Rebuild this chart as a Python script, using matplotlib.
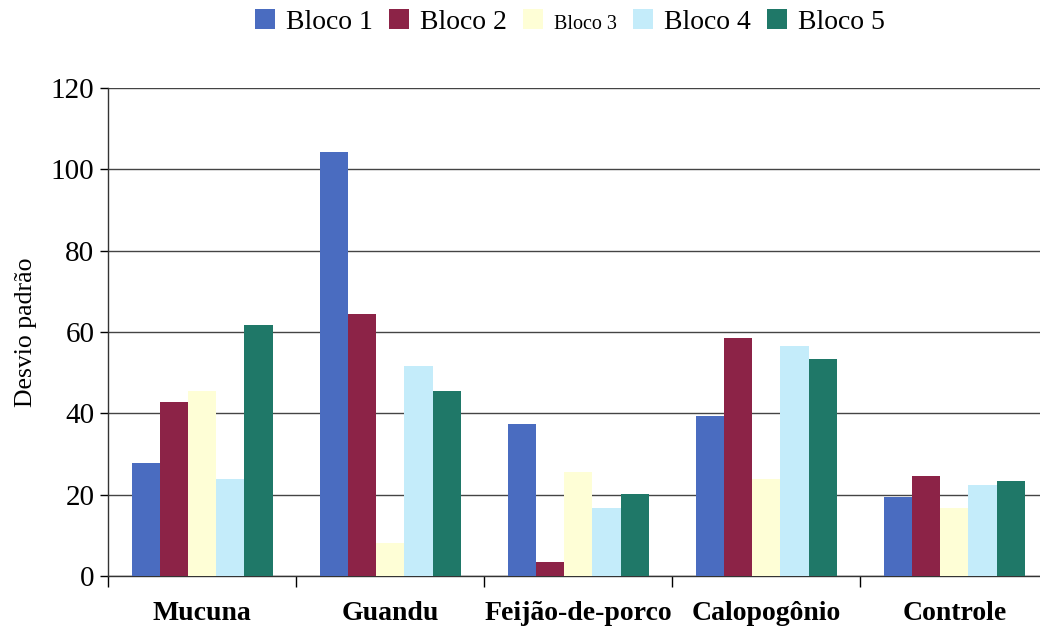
import numpy as np
import matplotlib.pyplot as plt

categorias = ['Mucuna', 'Guandu', 'Feijão-de-porco', 'Calopogônio', 'Controle']
blocos = ['Bloco 1', 'Bloco 2', 'Bloco 3', 'Bloco 4', 'Bloco 5']
bloco1 = [27.8, 104.2, 37.5, 39.3, 19.5]
bloco2 = [42.8, 64.4, 3.6, 58.6, 24.7]
bloco3 = [45.6, 8.2, 25.5, 23.8, 16.8]
bloco4 = [24.0, 51.7, 16.7, 56.6, 22.5]
bloco5 = [61.6, 45.6, 20.3, 53.3, 23.4]
cores = ['#4a6cc0', '#8c2347', '#fefed6', '#c4ecfa', '#1f7868']

plt.rcParams['font.family'] = ['Liberation Serif', 'DejaVu Serif']

fig = plt.figure(figsize=(10.4, 6.27), dpi=100)
ax = fig.add_axes([0.104, 0.081, 0.904, 0.779])

x = np.arange(len(categorias))
largura = 0.15
series = [bloco1, bloco2, bloco3, bloco4, bloco5]
for i, (vals, nome, cor) in enumerate(zip(series, blocos, cores)):
    ax.bar(x + (i - 2) * largura, vals, largura, color=cor, label=nome, zorder=3)

ax.set_xlim(-0.5, len(categorias) - 0.5)
ax.set_ylim(0, 120)
ax.set_yticks(np.arange(0, 121, 20))
ax.tick_params(axis='y', labelsize=21, length=6, width=1, direction='out', pad=4)
ax.yaxis.grid(True, color='#444444', linewidth=1, zorder=0)

# category labels centred, ticks on the boundaries between groups
ax.set_xticks(x)
ax.set_xticklabels(categorias, fontsize=20, fontweight='bold')
ax.tick_params(axis='x', length=0, pad=18)
ax.set_xticks(np.arange(-0.5, len(categorias)), minor=True)
ax.tick_params(axis='x', which='minor', length=8, width=1, direction='out')

ax.set_ylabel('Desvio padrão', fontsize=18.5, labelpad=10)

for s in ['top', 'right']:
    ax.spines[s].set_visible(False)
for s in ['left', 'bottom']:
    ax.spines[s].set_color('#333333')
    ax.spines[s].set_linewidth(1)

leg = fig.legend(loc='center', bbox_to_anchor=(0.548, 0.965), ncol=5,
                 frameon=False, fontsize=20, handlelength=0.7, handleheight=0.7,
                 handletextpad=0.4, columnspacing=0.6)
leg.get_texts()[2].set_fontsize(14.5)

fig.savefig('out.png', dpi=100)
